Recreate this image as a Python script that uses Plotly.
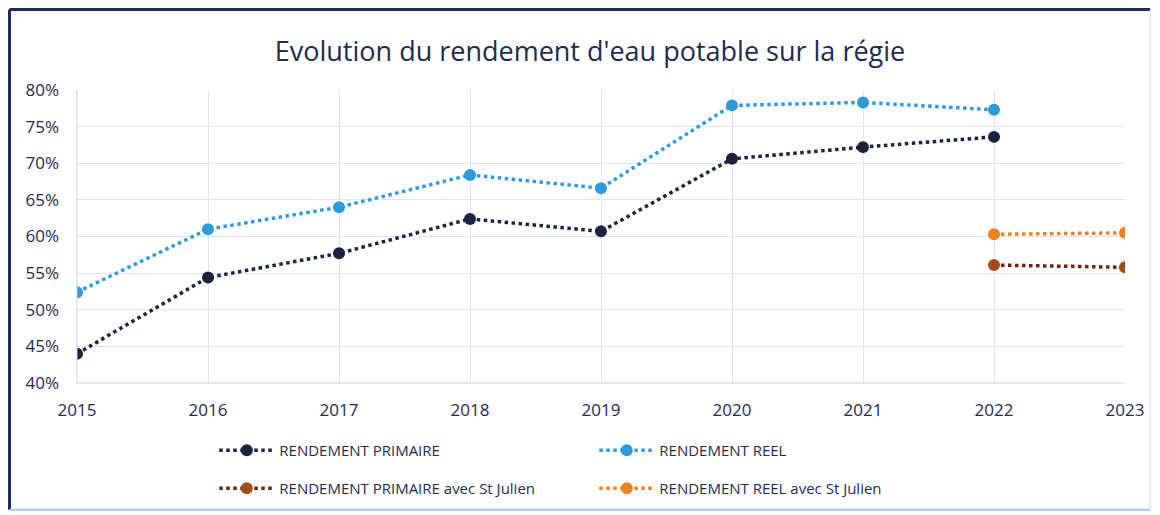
import plotly.graph_objects as go

years = [2015, 2016, 2017, 2018, 2019, 2020, 2021, 2022, 2023]
primaire = [44.0, 54.4, 57.7, 62.4, 60.7, 70.6, 72.2, 73.6, None]
reel = [52.4, 61.0, 64.0, 68.4, 66.6, 77.9, 78.3, 77.3, None]
primaire_stj = [None, None, None, None, None, None, None, 56.1, 55.8]
reel_stj = [None, None, None, None, None, None, None, 60.3, 60.5]
y_ticks = [40, 45, 50, 55, 60, 65, 70, 75, 80]
y_labels = [f"{v}%" for v in y_ticks]

FONT = "Open Sans, sans-serif"
NAVY = "#1f2b4d"

fig = go.Figure()
series = [
    ("RENDEMENT PRIMAIRE", primaire, "#1a2340", "#1a2340", "legend"),
    ("RENDEMENT REEL", reel, "#2d9ae0", "#2d9ae0", "legend"),
    ("RENDEMENT PRIMAIRE avec St Julien", primaire_stj, "#6e2410", "#a44d17", "legend2"),
    ("RENDEMENT REEL avec St Julien", reel_stj, "#f0821e", "#f0821e", "legend2"),
]
for name, vals, lc, mc, lg in series:
    fig.add_trace(go.Scatter(
        x=years, y=vals, name=name, mode="lines+markers",
        line=dict(color=lc, width=3.5, dash="dot"),
        marker=dict(color=mc, size=12),
        legend=lg, connectgaps=False,
    ))

legend_common = dict(
    orientation="h", xanchor="left", x=0.131, yanchor="middle",
    font=dict(family=FONT, size=15, color=NAVY),
    entrywidth=310, entrywidthmode="pixels",
    bgcolor="rgba(0,0,0,0)", itemwidth=55,
)

XL, XR = -0.0644, 1.024
YT, YB = 1.2748, -0.433

fig.update_layout(
    width=1160, height=515,
    margin=dict(l=69, r=43, t=82, b=140),
    paper_bgcolor="white", plot_bgcolor="white",
    title=dict(text="Evolution du rendement d'eau potable sur la régie",
               x=0.4895, xref="paper", y=0.915, yanchor="middle",
               font=dict(family=FONT, size=27, color=NAVY)),
    xaxis=dict(range=[2015, 2023], tickvals=years, ticktext=[str(y) for y in years],
               showgrid=True, gridcolor="#dfe4ee", gridwidth=1, zeroline=False,
               showline=False, ticks="", ticklabelstandoff=15,
               tickfont=dict(family=FONT, size=17, color=NAVY)),
    yaxis=dict(range=[40, 80], tickvals=y_ticks, ticktext=y_labels,
               showgrid=True, gridcolor="#dfe4ee", gridwidth=1, zeroline=False,
               showline=False, ticks="", ticklabelstandoff=17,
               tickfont=dict(family=FONT, size=17, color=NAVY)),
    legend=dict(y=-0.23, **legend_common),
    legend2=dict(y=-0.36, **legend_common),
    shapes=[
        dict(type="line", xref="paper", yref="paper", x0=XL, x1=XL, y0=YB, y1=YT,
             line=dict(color="#1e2d5a", width=3)),
        dict(type="line", xref="paper", yref="paper", x0=XL, x1=XR, y0=YT, y1=YT,
             line=dict(color="#1e2d5a", width=3)),
        dict(type="line", xref="paper", yref="paper", x0=XL, x1=XR, y0=YB, y1=YB,
             line=dict(color="#a9c6ea", width=2)),
        dict(type="line", xref="paper", yref="paper", x0=XR, x1=XR, y0=YB, y1=YT,
             line=dict(color="#d5dbe6", width=1)),
        dict(type="line", xref="paper", yref="paper", x0=0, x1=0, y0=0, y1=1,
             line=dict(color="#c9ced8", width=1)),
        dict(type="line", xref="paper", yref="paper", x0=0, x1=1, y0=0, y1=0,
             line=dict(color="#c9ced8", width=1)),
    ],
)

fig.write_html("out.html")
